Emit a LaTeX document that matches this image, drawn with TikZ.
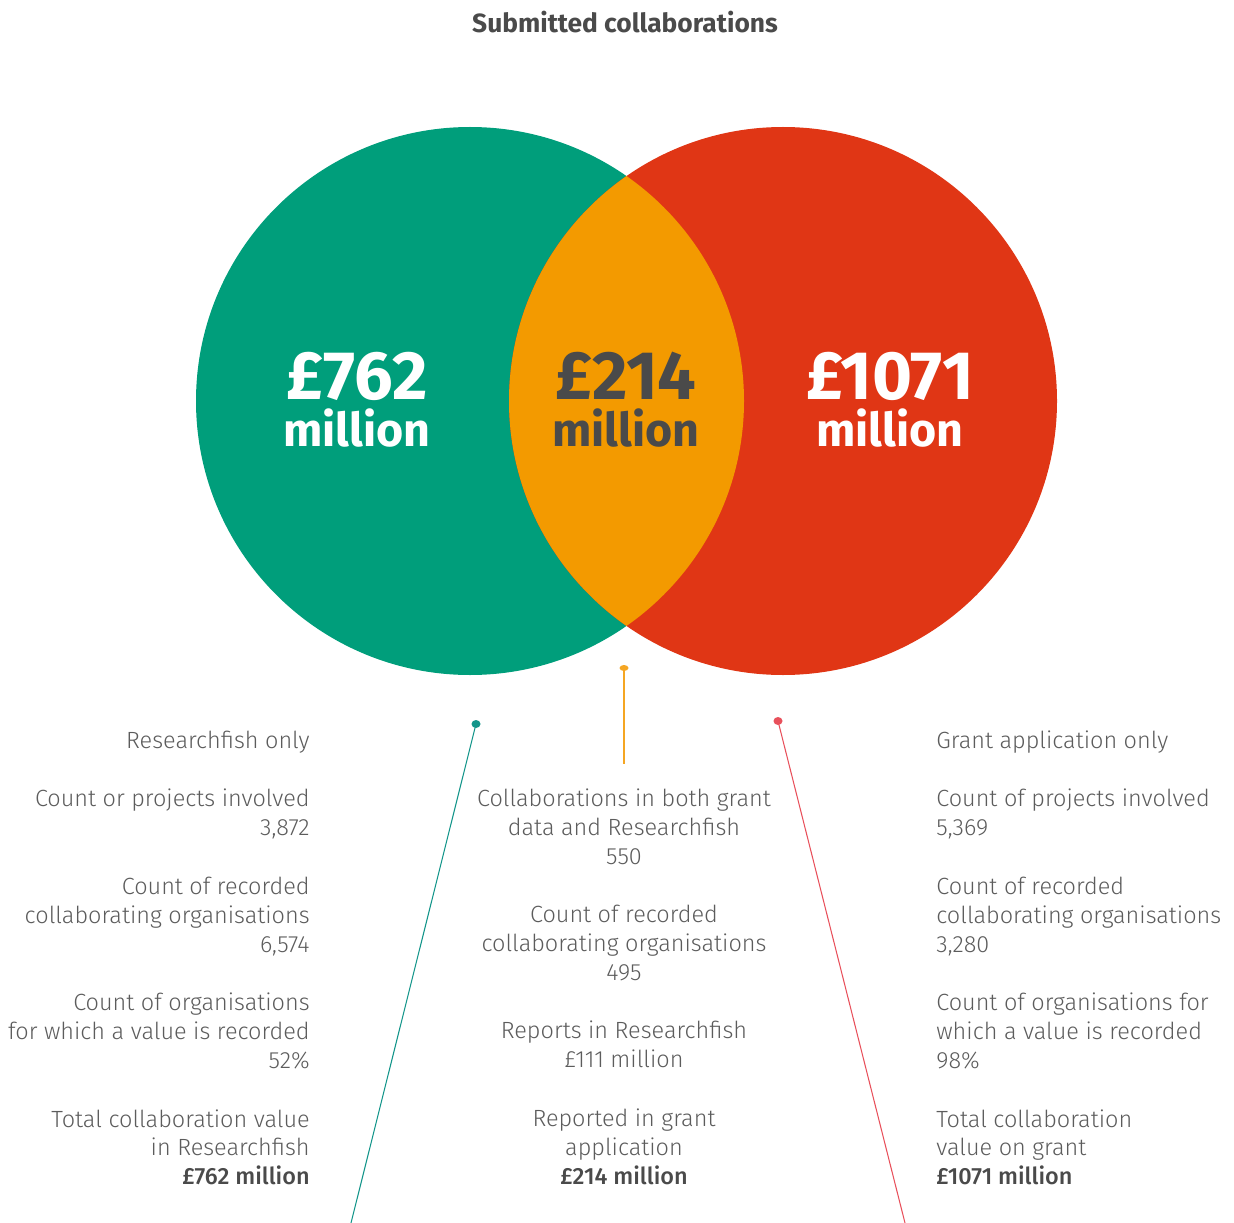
\documentclass[tikz,border=0pt]{standalone}
\usepackage{fontspec}
\setmainfont{Fira Sans Light}[BoldFont=Fira Sans Medium]
\newfontfamily\heavyfont{Fira Sans Bold}
\usetikzlibrary{positioning}

\definecolor{rfteal}{HTML}{009E7B}
\definecolor{grantred}{HTML}{E03615}
\definecolor{bothorange}{HTML}{F39A00}
\definecolor{tealline}{HTML}{13958A}
\definecolor{redline}{HTML}{E8505B}
\definecolor{orangeline}{HTML}{F5A623}
\definecolor{txtgray}{HTML}{5C5C5C}
\definecolor{darkgray}{HTML}{4A4A4A}

\newcommand{\infofont}{\fontsize{13.35pt}{16.44pt}\selectfont}

\tikzset{
	info/.style={font=\infofont, text=txtgray, inner sep=0pt},
	bignum/.style={font=\heavyfont\fontsize{39pt}{39pt}\selectfont, inner sep=0pt, text depth=0pt, anchor=base},
	bigunit/.style={font=\heavyfont\fontsize{26.5pt}{26.5pt}\selectfont, inner sep=0pt, text height=14pt, anchor=base},
	pin/.style={line width=0.6pt}
}

\begin{document}
\begin{tikzpicture}[x=0.02cm, y=-0.02cm, node distance=0.58cm]
	\useasboundingbox (0,0) rectangle (1234,1223);

	\node[font=\heavyfont\fontsize{15pt}{18pt}\selectfont, text=darkgray] (title) at (625,22) {Submitted collaborations};

	% the two sets and their overlap
	\fill[rfteal] (470,401) circle (274);
	\fill[grantred] (783,401) circle (274);
	\begin{scope}
		\clip (470,401) circle (274);
		\fill[bothorange] (783,401) circle (274);
	\end{scope}

	\node[bignum, text=white] (rfval) at (357,399) {£762};
	\node[bigunit, text=white] (rfunit) at (357,446) {million};
	\node[bignum, text=darkgray] (bothval) at (626,399) {£214};
	\node[bigunit, text=darkgray] (bothunit) at (626,446) {million};
	\node[bignum, text=white] (grval) at (890,399) {£1071};
	\node[bigunit, text=white] (grunit) at (890,446) {million};

	% pins
	\coordinate (rfdot) at (476,724);
	\coordinate (rfend) at (351,1223);
	\coordinate (bothdot) at (624,668);
	\coordinate (bothend) at (624,764);
	\coordinate (grdot) at (778,721);
	\coordinate (grend) at (905,1223);
	\draw[pin, tealline] (rfdot) -- (rfend);
	\draw[pin, orangeline] (bothdot) -- (bothend);
	\draw[pin, redline] (grdot) -- (grend);
	\fill[tealline] (rfdot) ellipse (4.5 and 4);
	\fill[orangeline] (bothdot) ellipse (4.5 and 3);
	\fill[redline] (grdot) ellipse (4.5 and 4);

	% Researchfish only
	\node[info, align=right, anchor=north east] (rfhead) at (310,727.7) {\strut Researchfish only\strut};
	\node[info, align=right, below=of rfhead.south east, anchor=north east] (rfprojects) {\strut Count or projects involved\\3,872\strut};
	\node[info, align=right, below=of rfprojects.south east, anchor=north east] (rforgs) {\strut Count of recorded\\collaborating organisations\\6,574\strut};
	\node[info, align=right, below=of rforgs.south east, anchor=north east] (rfshare) {\strut Count of organisations\\for which a value is recorded\\52\%\strut};
	\node[info, align=right, below=of rfshare.south east, anchor=north east] (rftotal) {\strut Total collaboration value\\in Researchfish\\\textcolor{darkgray}{\bfseries £762 million}\strut};

	% both
	\node[info, align=center, anchor=north] (bothhead) at (624,785.7) {\strut Collaborations in both grant\\data and Researchfish\\550\strut};
	\node[info, align=center, below=of bothhead] (bothorgs) {\strut Count of recorded\\collaborating organisations\\495\strut};
	\node[info, align=center, below=of bothorgs] (bothrf) {\strut Reports in Researchfish\\£111 million\strut};
	\node[info, align=center, below=of bothrf] (bothtotal) {\strut Reported in grant\\application\\\textcolor{darkgray}{\bfseries £214 million}\strut};

	% Grant application only
	\node[info, align=left, anchor=north west] (grhead) at (936,727.7) {\strut Grant application only\strut};
	\node[info, align=left, below=of grhead.south west, anchor=north west] (grprojects) {\strut Count of projects involved\\5,369\strut};
	\node[info, align=left, below=of grprojects.south west, anchor=north west] (grorgs) {\strut Count of recorded\\collaborating organisations\\3,280\strut};
	\node[info, align=left, below=of grorgs.south west, anchor=north west] (grshare) {\strut Count of organisations for\\which a value is recorded\\98\%\strut};
	\node[info, align=left, below=of grshare.south west, anchor=north west] (grtotal) {\strut Total collaboration\\value on grant\\\textcolor{darkgray}{\bfseries £1071 million}\strut};
\end{tikzpicture}
\end{document}
